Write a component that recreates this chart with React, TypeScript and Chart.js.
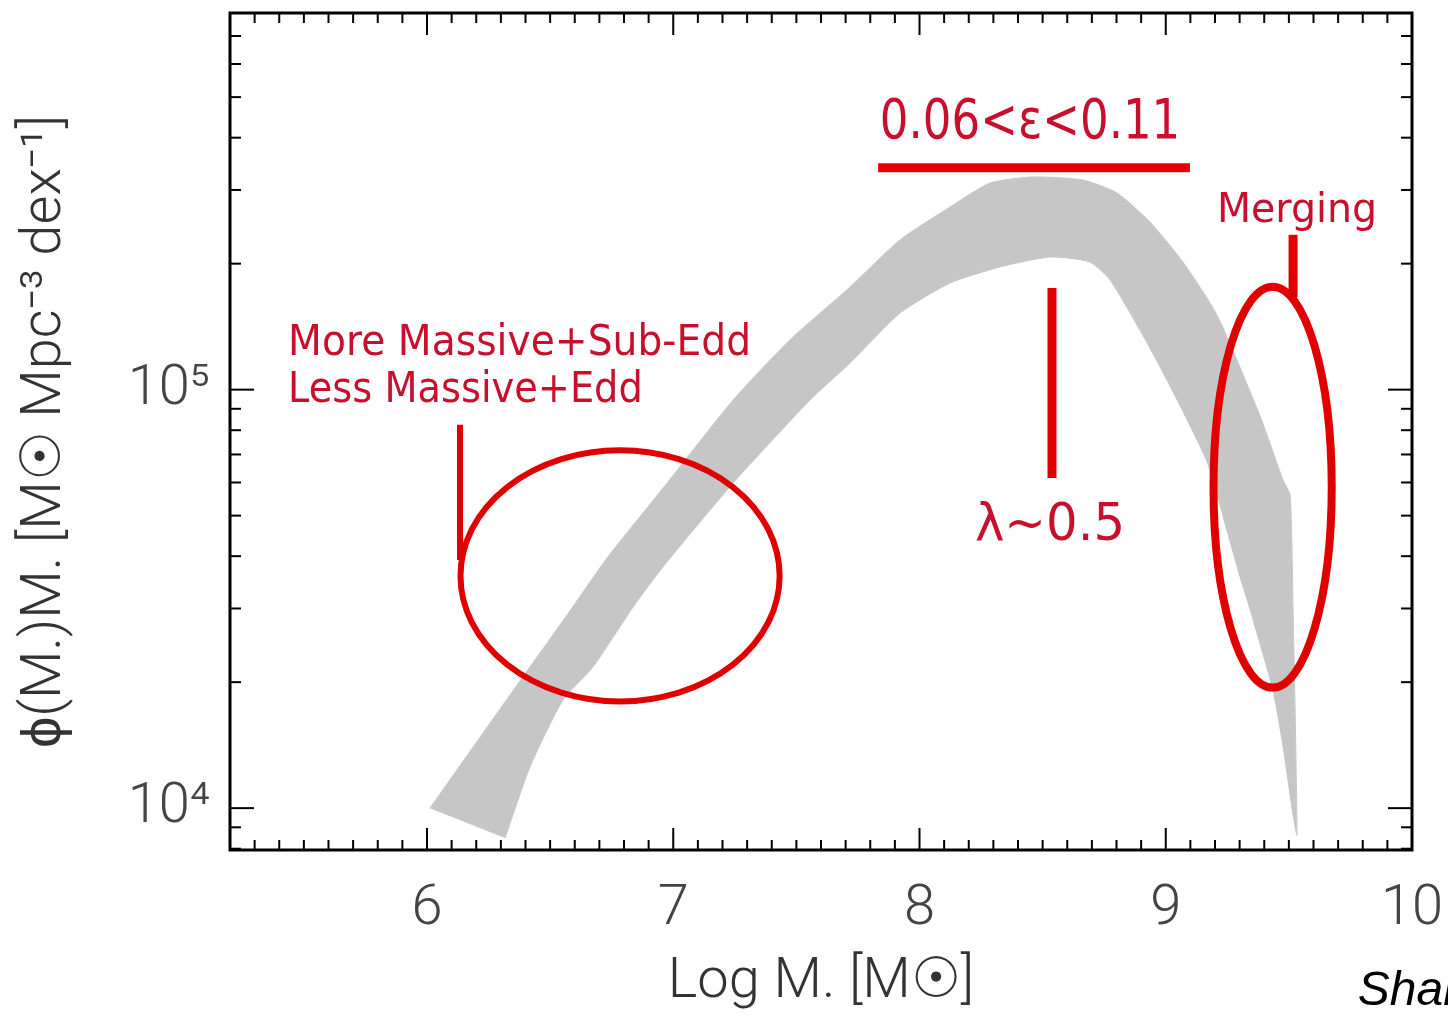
import React, { useEffect, useRef } from "react";
import { Chart, registerables } from "chart.js";
Chart.register(...registerables);

// ---- Data: grey band (log M, phi*M) ----
const upperX = [6.012, 6.227, 6.418, 6.570, 6.730, 6.975, 7.243, 7.474, 7.718, 7.921, 8.124, 8.286, 8.461, 8.664, 8.802, 8.936, 9.070, 9.208, 9.383, 9.476, 9.505, 9.517, 9.533];
const upperY = [10000, 15100, 21750, 29000, 39500, 59800, 94400, 131500, 175900, 228000, 273100, 311700, 322300, 316900, 295100, 251500, 201800, 150700, 86500, 60800, 56000, 29900, 8630];
const lowerX = [9.517, 9.476, 9.436, 9.342, 9.302, 9.249, 9.168, 9.005, 8.895, 8.774, 8.692, 8.530, 8.327, 8.124, 7.921, 7.718, 7.555, 7.243, 6.958, 6.837, 6.674, 6.552, 6.418, 6.317];
const lowerY = [9630, 14080, 19050, 29900, 35650, 45950, 67150, 105400, 138800, 182800, 201800, 207500, 196400, 179800, 152400, 115800, 94400, 59800, 37700, 30250, 21750, 18130, 12540, 8490];

// ---- Axes ----
const xMin = 5.2;
const xMax = 10;
const yMin = 7943;
const yMax = 794300;
const xTickValues = [6, 7, 8, 9, 10];
const xTickLabels = ["6", "7", "8", "9", "10"];
const yTickValues = [10000, 100000];
const yTickLabels = ["10\u2074", "10\u2075"];
const xTitle = "Log M. [M\u2609]";
const yTitle = "\u03d5(M.)M. [M\u2609 Mpc\u207b\u00b3 dex\u207b\u00b9]";
const credit = "Shankar et al.";

// ---- Annotations (data coordinates) ----
const ellipseCX = [6.784, 9.434];
const ellipseCY = [35890, 58480];
const ellipseRX = [0.648, 0.240];
const ellipseRYdex = [0.300, 0.479];
const ellipseWidth = [6, 8];

const segX1 = [6.134, 7.832, 8.538, 9.517];
const segY1 = [82410, 338800, 175000, 234400];
const segX2 = [6.134, 9.098, 8.538, 9.517];
const segY2 = [39170, 338800, 61520, 166300];
const segWidth = [6, 9, 9, 9];

const noteText = ["0.06<\u03b5<0.11", "\u03bb~0.5", "Merging", "More Massive+Sub-Edd", "Less Massive+Edd"];
const noteX = [8.449, 8.530, 9.533, 5.436, 5.436];
const noteY = [399000, 43750, 251800, 121100, 93300];
const noteAlign = ["center", "center", "center", "left", "left"];
const noteSize = [56, 52, 40, 42, 42];
const noteSpan = [1.22, 0.61, 0.65, 1.88, 1.44]; // target widths in x units

const RED_LINE = "#e00000";
const RED_TEXT = "#c8102e";
const BAND = "#c6c6c6";
const THIN_FONT = "Roboto, 'Liberation Sans', sans-serif";
const NOTE_FONT = "'DejaVu Sans', sans-serif";

function minorX(): number[] {
  const out: number[] = [];
  for (let i = Math.round(xMin * 10) + 1; i < Math.round(xMax * 10); i++) {
    if (i % 10 !== 0) out.push(i / 10);
  }
  return out;
}
function minorY(): number[] {
  const out: number[] = [];
  for (let d = 1000; d <= 1000000; d *= 10) {
    for (let m = 2; m <= 9; m++) {
      const v = m * d;
      if (v > yMin && v < yMax) out.push(v);
    }
  }
  return out;
}

const framePlugin = {
  id: "frameAndNotes",
  afterDatasetsDraw(chart: any) {
    const { ctx, chartArea: a, scales } = chart;
    const xs = scales.x;
    const ys = scales.y;
    ctx.save();

    // annotations: ellipses
    ctx.strokeStyle = RED_LINE;
    for (let i = 0; i < ellipseCX.length; i++) {
      const cx = xs.getPixelForValue(ellipseCX[i]);
      const cy = ys.getPixelForValue(ellipseCY[i]);
      const rx = xs.getPixelForValue(ellipseCX[i] + ellipseRX[i]) - cx;
      const ry = cy - ys.getPixelForValue(ellipseCY[i] * Math.pow(10, ellipseRYdex[i]));
      ctx.lineWidth = ellipseWidth[i];
      ctx.beginPath();
      ctx.ellipse(cx, cy, rx, ry, 0, 0, Math.PI * 2);
      ctx.stroke();
    }
    // segments
    ctx.lineCap = "butt";
    for (let i = 0; i < segX1.length; i++) {
      ctx.lineWidth = segWidth[i];
      ctx.beginPath();
      ctx.moveTo(xs.getPixelForValue(segX1[i]), ys.getPixelForValue(segY1[i]));
      ctx.lineTo(xs.getPixelForValue(segX2[i]), ys.getPixelForValue(segY2[i]));
      ctx.stroke();
    }
    // texts
    ctx.fillStyle = RED_TEXT;
    ctx.textBaseline = "alphabetic";
    for (let i = 0; i < noteText.length; i++) {
      ctx.font = `${noteSize[i]}px ${NOTE_FONT}`;
      const w = ctx.measureText(noteText[i]).width;
      const target = xs.getPixelForValue(noteX[i] + noteSpan[i]) - xs.getPixelForValue(noteX[i]);
      const sx = target / w;
      const px = xs.getPixelForValue(noteX[i]);
      const py = ys.getPixelForValue(noteY[i]);
      ctx.save();
      ctx.translate(px, py);
      ctx.scale(sx, 1);
      ctx.textAlign = noteAlign[i] as CanvasTextAlign;
      ctx.fillText(noteText[i], 0, 0);
      ctx.restore();
    }

    // credit text (cut off at the right edge as in the source)
    ctx.fillStyle = "#000";
    ctx.font = `italic 48px 'Liberation Sans', Arial, sans-serif`;
    ctx.textAlign = "left";
    ctx.fillText(credit, xs.getPixelForValue(9.78), a.bottom + 155);

    // ticks
    ctx.strokeStyle = "#000";
    ctx.lineWidth = 2;
    const seg = (x1: number, y1: number, x2: number, y2: number) => {
      ctx.beginPath();
      ctx.moveTo(x1, y1);
      ctx.lineTo(x2, y2);
      ctx.stroke();
    };
    for (const v of minorX()) {
      const p = xs.getPixelForValue(v);
      seg(p, a.bottom, p, a.bottom - 10);
      seg(p, a.top, p, a.top + 10);
    }
    for (const v of xTickValues) {
      const p = xs.getPixelForValue(v);
      if (p >= a.right - 1) continue;
      seg(p, a.bottom, p, a.bottom - 22);
      seg(p, a.top, p, a.top + 22);
    }
    for (const v of minorY()) {
      const p = ys.getPixelForValue(v);
      seg(a.left, p, a.left + 11, p);
      seg(a.right, p, a.right - 11, p);
    }
    for (const v of yTickValues) {
      const p = ys.getPixelForValue(v);
      seg(a.left, p, a.left + 24, p);
      seg(a.right, p, a.right - 24, p);
    }
    ctx.lineWidth = 3;
    ctx.strokeRect(a.left, a.top, a.right - a.left, a.bottom - a.top);
    ctx.restore();
  },
};

export default function App() {
  const ref = useRef<HTMLCanvasElement | null>(null);
  useEffect(() => {
    if (!ref.current) return;
    const bandPts = [
      ...upperX.map((x, i) => ({ x, y: upperY[i] })),
      ...lowerX.map((x, i) => ({ x, y: lowerY[i] })),
    ];
    const chart = new Chart(ref.current, {
      type: "scatter",
      data: {
        datasets: [
          {
            data: bandPts,
            showLine: true,
            fill: "shape",
            backgroundColor: BAND,
            borderColor: BAND,
            borderWidth: 1,
            pointRadius: 0,
            tension: 0.2,
          } as any,
        ],
      },
      options: {
        animation: false,
        responsive: true,
        maintainAspectRatio: false,
        layout: { padding: { left: 0, top: 13, right: 36, bottom: 0 } },
        plugins: { legend: { display: false }, tooltip: { enabled: false } },
        scales: {
          x: {
            type: "linear",
            min: xMin,
            max: xMax,
            grid: { display: false, drawTicks: false },
            border: { display: false },
            afterFit: (s: any) => {
              s.height = 169;
              s.paddingLeft = 0;
              s.paddingRight = 0;
            },
            afterBuildTicks: (s: any) => {
              s.ticks = xTickValues.map((v) => ({ value: v }));
            },
            ticks: {
              padding: 26,
              color: "#444",
              font: { family: THIN_FONT, size: 56, weight: "300" as any },
              maxRotation: 0,
              autoSkip: false,
              callback: (v: any) => {
                const i = xTickValues.indexOf(Number(v));
                return i >= 0 ? xTickLabels[i] : "";
              },
            },
            title: {
              display: true,
              text: xTitle,
              color: "#333",
              font: { family: THIN_FONT, size: 56, weight: "300" as any },
              padding: { top: 0, bottom: 2 },
            },
          },
          y: {
            type: "logarithmic",
            min: yMin,
            max: yMax,
            grid: { display: false, drawTicks: false },
            border: { display: false },
            afterFit: (s: any) => {
              s.width = 230;
              s.paddingTop = 0;
              s.paddingBottom = 0;
            },
            afterBuildTicks: (s: any) => {
              s.ticks = yTickValues.map((v) => ({ value: v }));
            },
            ticks: {
              padding: 20,
              color: "#444",
              font: { family: THIN_FONT, size: 56, weight: "300" as any },
              autoSkip: false,
              callback: (v: any) => {
                const i = yTickValues.indexOf(Number(v));
                return i >= 0 ? yTickLabels[i] : "";
              },
            },
            title: {
              display: true,
              text: yTitle,
              color: "#333",
              font: { family: THIN_FONT, size: 56, weight: "300" as any },
              padding: { top: 12, bottom: 0 },
            },
          },
        },
      },
      plugins: [framePlugin],
    });
    return () => chart.destroy();
  }, []);
  return (
    <div style={{ position: "absolute", left: 0, top: 0, width: 1448, height: 1019, background: "#fff" }}>
      <canvas ref={ref} />
    </div>
  );
}
